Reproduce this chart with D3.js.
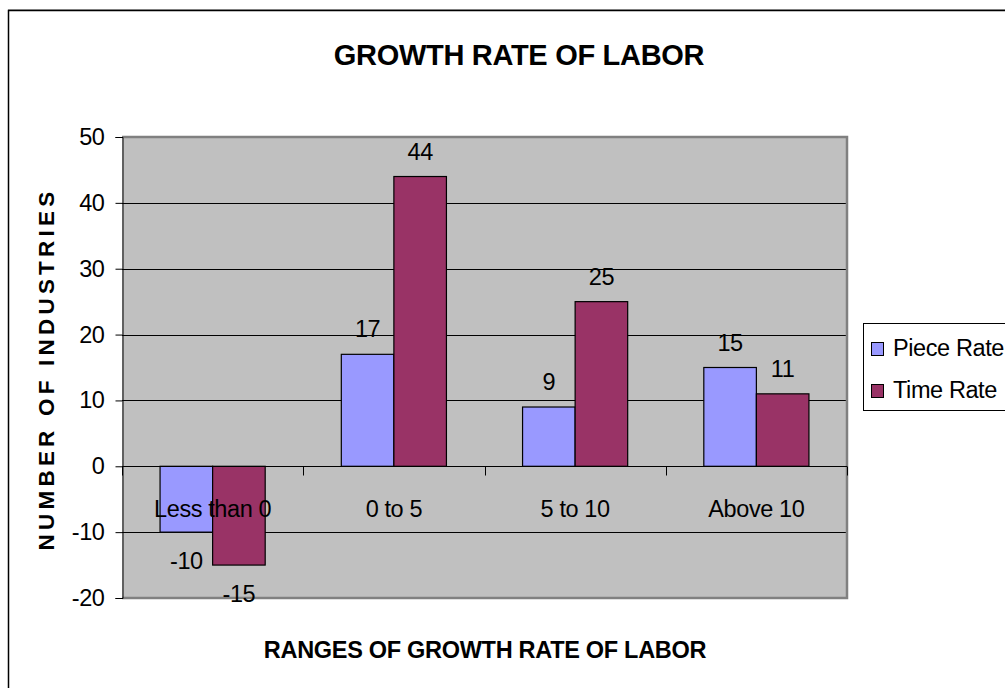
<!DOCTYPE html>
<html>
<head>
<meta charset="utf-8">
<script src="https://cdn.jsdelivr.net/npm/d3@7"></script>
<style>
  html, body { margin: 0; padding: 0; background: #fff; }
  svg { display: block; font-family: "Liberation Sans", Arial, sans-serif; }
</style>
</head>
<body>
<svg id="chart" width="1005" height="688"></svg>
<script>
// Number of industries by range of labour growth rate
const categories = ["Less than 0", "0 to 5", "5 to 10", "Above 10"];
const seriesNames = ["Piece Rate", "Time Rate"];
const pieceRate = [-10, 17, 9, 15];
const timeRate = [-15, 44, 25, 11];
const yTicks = [-20, -10, 0, 10, 20, 30, 40, 50];
const seriesColors = ["#9999FF", "#993366"];

const svg = d3.select("#chart");
const W = 1005, H = 688;

// outer frame
svg.append("line").attr("x1", 8).attr("x2", W + 5).attr("y1", 9.5).attr("y2", 9.5)
  .attr("stroke", "#aaa").attr("stroke-width", 1);
svg.append("rect").attr("x", 8.5).attr("y", 10.5).attr("width", W + 10).attr("height", H + 10)
  .attr("fill", "none").attr("stroke", "#000").attr("stroke-width", 1.5);

const plot = { left: 122, right: 847, top: 137, bottom: 598 };

const x = d3.scaleBand().domain(categories).range([plot.left, plot.right]).padding(0);
const bw = x.bandwidth();
const xs = d3.scaleBand().domain(seriesNames).range([bw * 0.21, bw * 0.79]).padding(0);
const y = d3.scaleLinear().domain([-20, 50]).range([plot.bottom, plot.top]);

// plot background
svg.append("rect")
  .attr("x", plot.left).attr("y", plot.top)
  .attr("width", plot.right - plot.left).attr("height", plot.bottom - plot.top)
  .attr("fill", "#C0C0C0");

// gridlines
svg.append("g").selectAll("line")
  .data(yTicks.filter(t => t !== 0 && t !== 50 && t !== -20))
  .join("line")
  .attr("x1", plot.left).attr("x2", plot.right)
  .attr("y1", d => Math.round(y(d)) + 0.5).attr("y2", d => Math.round(y(d)) + 0.5)
  .attr("stroke", "#000").attr("stroke-width", 1);

// plot border (top, right, bottom)
svg.append("path")
  .attr("d", `M${plot.left},${plot.top}H${plot.right}V${plot.bottom}H${plot.left}`)
  .attr("fill", "none").attr("stroke", "#808080").attr("stroke-width", 2.5);

// y axis
const yAxis = d3.axisLeft(y).tickValues(yTicks).tickSize(7).tickPadding(11)
  .tickFormat(d => String(d));
const yg = svg.append("g").attr("transform", `translate(${plot.left + 0.5},0)`).call(yAxis);
yg.select(".domain").attr("stroke", "#000");
yg.selectAll(".tick line").attr("stroke", "#000");
yg.selectAll(".tick text")
  .attr("font-size", 23.5).attr("letter-spacing", -0.4).attr("fill", "#000")
  .attr("font-family", "'Liberation Sans', Arial, sans-serif");

// bars
const data = categories.map((c, i) => ({
  cat: c,
  values: [
    { s: seriesNames[0], v: pieceRate[i] },
    { s: seriesNames[1], v: timeRate[i] }
  ]
}));

const groups = svg.append("g").selectAll("g")
  .data(data).join("g")
  .attr("transform", d => `translate(${x(d.cat)},0)`);

groups.selectAll("rect")
  .data(d => d.values).join("rect")
  .attr("x", d => xs(d.s))
  .attr("width", xs.bandwidth())
  .attr("y", d => y(Math.max(0, d.v)))
  .attr("height", d => Math.abs(y(d.v) - y(0)))
  .attr("fill", (d, i) => seriesColors[i])
  .attr("stroke", "#000").attr("stroke-width", 1.2);

// x axis at zero with ticks at category boundaries
const zeroY = Math.round(y(0)) + 0.5;
svg.append("line").attr("x1", plot.left).attr("x2", plot.right)
  .attr("y1", zeroY).attr("y2", zeroY).attr("stroke", "#000").attr("stroke-width", 1);
const boundaries = categories.map(c => x(c)).concat([plot.right]);
svg.append("g").selectAll("line").data(boundaries).join("line")
  .attr("x1", d => Math.round(d) + 0.5).attr("x2", d => Math.round(d) + 0.5)
  .attr("y1", zeroY).attr("y2", zeroY + 9)
  .attr("stroke", "#000").attr("stroke-width", 1);

// category labels
svg.append("g").selectAll("text").data(categories).join("text")
  .attr("x", d => x(d) + bw / 2)
  .attr("y", y(0) + 51)
  .attr("text-anchor", "middle")
  .attr("font-size", 23.5).attr("letter-spacing", -0.4)
  .text(d => d);

// value labels
groups.selectAll("text.val")
  .data(d => d.values).join("text")
  .attr("class", "val")
  .attr("x", d => xs(d.s) + xs.bandwidth() / 2)
  .attr("y", d => d.v >= 0 ? y(d.v) - 17 : y(d.v) + 37)
  .attr("text-anchor", "middle")
  .attr("font-size", 23.5).attr("letter-spacing", -0.4)
  .text(d => d.v);

// title
svg.append("text")
  .attr("x", 519).attr("y", 65)
  .attr("text-anchor", "middle")
  .attr("font-size", 29).attr("font-weight", "bold").attr("letter-spacing", -0.3)
  .text("GROWTH RATE OF LABOR");

// axis titles
svg.append("text")
  .attr("x", 485).attr("y", 658)
  .attr("text-anchor", "middle")
  .attr("font-size", 23.5).attr("font-weight", "bold").attr("letter-spacing", -0.3)
  .text("RANGES OF GROWTH RATE OF LABOR");

svg.append("text")
  .attr("transform", `translate(54,${(190 + 548) / 2}) rotate(-90)`)
  .attr("text-anchor", "middle")
  .attr("font-size", 22.5).attr("font-weight", "bold").attr("letter-spacing", 4.2)
  .text("NUMBER OF INDUSTRIES");

// legend
const lg = svg.append("g");
lg.append("rect").attr("x", 863.5).attr("y", 323.5).attr("width", 160).attr("height", 87)
  .attr("fill", "#fff").attr("stroke", "#000").attr("stroke-width", 1);
const items = lg.selectAll("g.item").data(seriesNames).join("g")
  .attr("class", "item")
  .attr("transform", (d, i) => `translate(0,${i * 42})`);
items.append("rect").attr("x", 871.5).attr("y", 342.5).attr("width", 12).attr("height", 13)
  .attr("fill", (d, i) => seriesColors[i]).attr("stroke", "#000").attr("stroke-width", 1);
items.append("text").attr("x", 893).attr("y", 356)
  .attr("font-size", 23.5).attr("letter-spacing", -0.4)
  .text(d => d);
</script>
</body>
</html>
